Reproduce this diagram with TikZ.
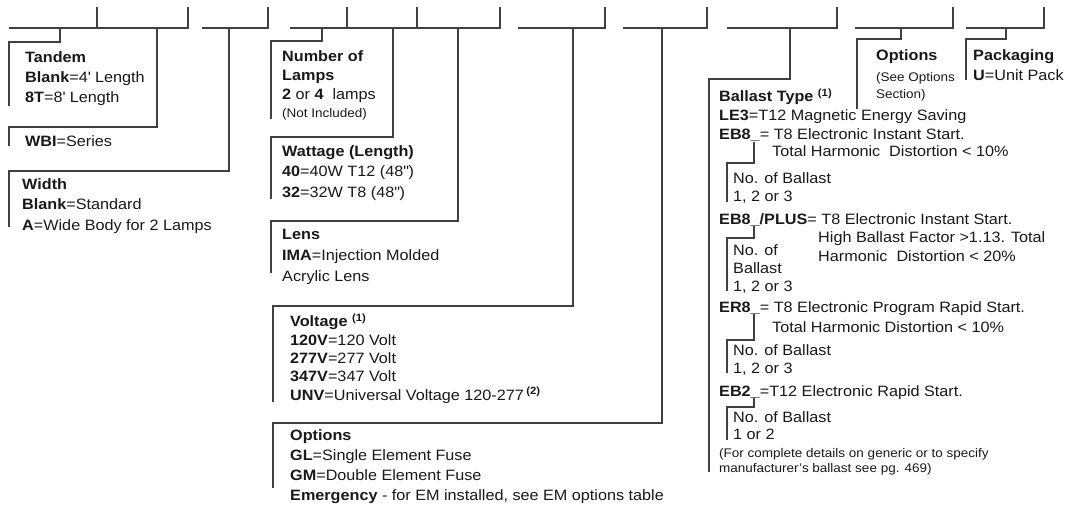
\documentclass[tikz,border=0pt]{standalone}
\usepackage{fontspec}
\setmainfont{Liberation Sans}[FakeStretch=1.08]

\tikzset{
  rule/.style={draw=black!75, line width=1.1pt},
  txt/.style={anchor=base west, inner sep=0pt, align=left, text=black!90, font=\fontsize{15}{20}\selectfont},
  tight/.style={txt, font=\fontsize{15}{18}\selectfont},
  note/.style={txt, font=\fontsize{12.5}{16.5}\selectfont}
}

\begin{document}
\begin{tikzpicture}[x=1pt, y=-1pt]
			\useasboundingbox (0,0) rectangle (1069,508);
			% code row
			\foreach \a/\b in {9/188, 202/268, 290/500, 518/605, 623/707, 727/837, 855/953, 966/1044}
				\draw[rule] (\a,28) -- (\b,28) -- (\b,7);
			\foreach \x in {97, 347, 417}
				\draw[rule] (\x,28) -- (\x,7);
			\foreach \n/\x in {tan/60, wbi/157, wid/229, lam/322, wat/393, len/458, vol/573, opt/662, bal/790, sec/901, pac/1006}
				\coordinate (k\n) at (\x,28);

			% left fields (multi-line nodes sit on their last baseline)
			\node[txt] (tandem) at (25,103) {\textbf{Tandem}\\\textbf{Blank}=4\textquotesingle{} Length\\\textbf{8T}=8\textquotesingle{} Length};
			\node[txt] (series) at (25,147) {\textbf{WBI}=Series};
			\node[txt, font=\fontsize{15}{20.5}\selectfont] (width) at (22,230) {\textbf{Width}\\\textbf{Blank}=Standard\\\textbf{A}=Wide Body for 2 Lamps};
			\draw[rule] (ktan) |- (9,42) -- (9,106);
			\draw[rule] (kwbi) |- (9,127) -- (9,146);
			\draw[rule] (kwid) |- (9,171) -- (9,227);

			% middle fields
			\node[txt, font=\fontsize{15}{19}\selectfont] (lamps) at (282,100) {\textbf{Number of}\\\textbf{Lamps}\\\textbf{2} or \textbf{4}\ \ lamps};
			\node[note] (notinc) at (282,118) {(Not Included)};
			\node[txt] (watt) at (282,197) {\textbf{Wattage (Length)}\\\textbf{40}=40W T12 (48\textquotedbl)\\\textbf{32}=32W T8 (48\textquotedbl)};
			\node[txt, font=\fontsize{15}{21}\selectfont] (lens) at (282,281) {\textbf{Lens}\\\textbf{IMA}=Injection Molded\\Acrylic Lens};
			\node[txt, font=\fontsize{15}{18.3}\selectfont] (volt) at (290,400) {\textbf{Voltage} \textsuperscript{\textbf{(1)}}\\\textbf{120V}=120 Volt\\\textbf{277V}=277 Volt\\\textbf{347V}=347 Volt\\\textbf{UNV}=Universal Voltage 120-277\,\textsuperscript{\textbf{(2)}}};
			\node[txt] (fuse) at (290,500) {\textbf{Options}\\\textbf{GL}=Single Element Fuse\\\textbf{GM}=Double Element Fuse\\\textbf{Emergency} - for EM installed, see EM options table};
			\draw[rule] (klam) |- (271,41) -- (271,119);
			\draw[rule] (kwat) |- (271,137) -- (271,199);
			\draw[rule] (klen) |- (271,221) -- (271,273);
			\draw[rule] (kvol) |- (273,306) -- (273,402);
			\draw[rule] (kopt) |- (273,423) -- (273,488);

			% ballast
			\node[txt] (btype) at (719,102) {\textbf{Ballast Type} \textsuperscript{\textbf{(1)}}};
			\node[txt] (le3) at (719,121) {\textbf{LE3}=T12 Magnetic Energy Saving};
			\node[txt] (eb8) at (719,140) {\textbf{EB8\_}= T8 Electronic Instant Start.};
			\node[txt] (eb8thd) at (772,157) {Total Harmonic\ \ Distortion < 10\%};
			\node[tight] (eb8no) at (733,201) {No. of Ballast\\1, 2 or 3};
			\node[txt] (plus) at (719,224) {\textbf{EB8\_/PLUS}= T8 Electronic Instant Start.};
			\node[tight] (plusthd) at (818,261) {High Ballast Factor >1.13. Total\\Harmonic\ \ Distortion < 20\%};
			\node[tight] (plusno) at (733,291) {No. of\\Ballast\\1, 2 or 3};
			\node[txt] (er8) at (719,312) {\textbf{ER8\_}= T8 Electronic Program Rapid Start.};
			\node[txt] (er8thd) at (772,332) {Total Harmonic Distortion < 10\%};
			\node[tight] (er8no) at (733,373) {No. of Ballast\\1, 2 or 3};
			\node[txt, font=\fontsize{15}{17}\selectfont] (eb2no) at (733,439) {No. of Ballast\\1 or 2};
			\node[txt] (eb2) at (719,396) {\textbf{EB2\_}=T12 Electronic Rapid Start.};
			\node[note, font=\fontsize{12.5}{15}\selectfont] (generic) at (719,472) {(For complete details on generic or to specify\\manufacturer’s ballast see pg. 469)};
			\draw[rule] (kbal) |- (709,79) -- (709,472);
			\draw[rule] (754,142) |- (727,163) -- (727,202);
			\draw[rule] (754,226) |- (727,238) -- (727,291);
			\draw[rule] (754,314) |- (727,340) -- (727,373);
			\draw[rule] (754,398) |- (727,407) -- (727,440);

			% options and packaging
			\node[txt] (optsec) at (876,61) {\textbf{Options}};
			\node[note, font=\fontsize{12.5}{17}\selectfont] (seesec) at (876,99) {(See Options\\Section)};
			\node[txt] (pack) at (973,81) {\textbf{Packaging}\\\textbf{U}=Unit Pack};
			\draw[rule] (ksec) |- (857,39) -- (857,109);
			\draw[rule] (kpac) |- (966,39) -- (966,80);
		\end{tikzpicture}
\end{document}
